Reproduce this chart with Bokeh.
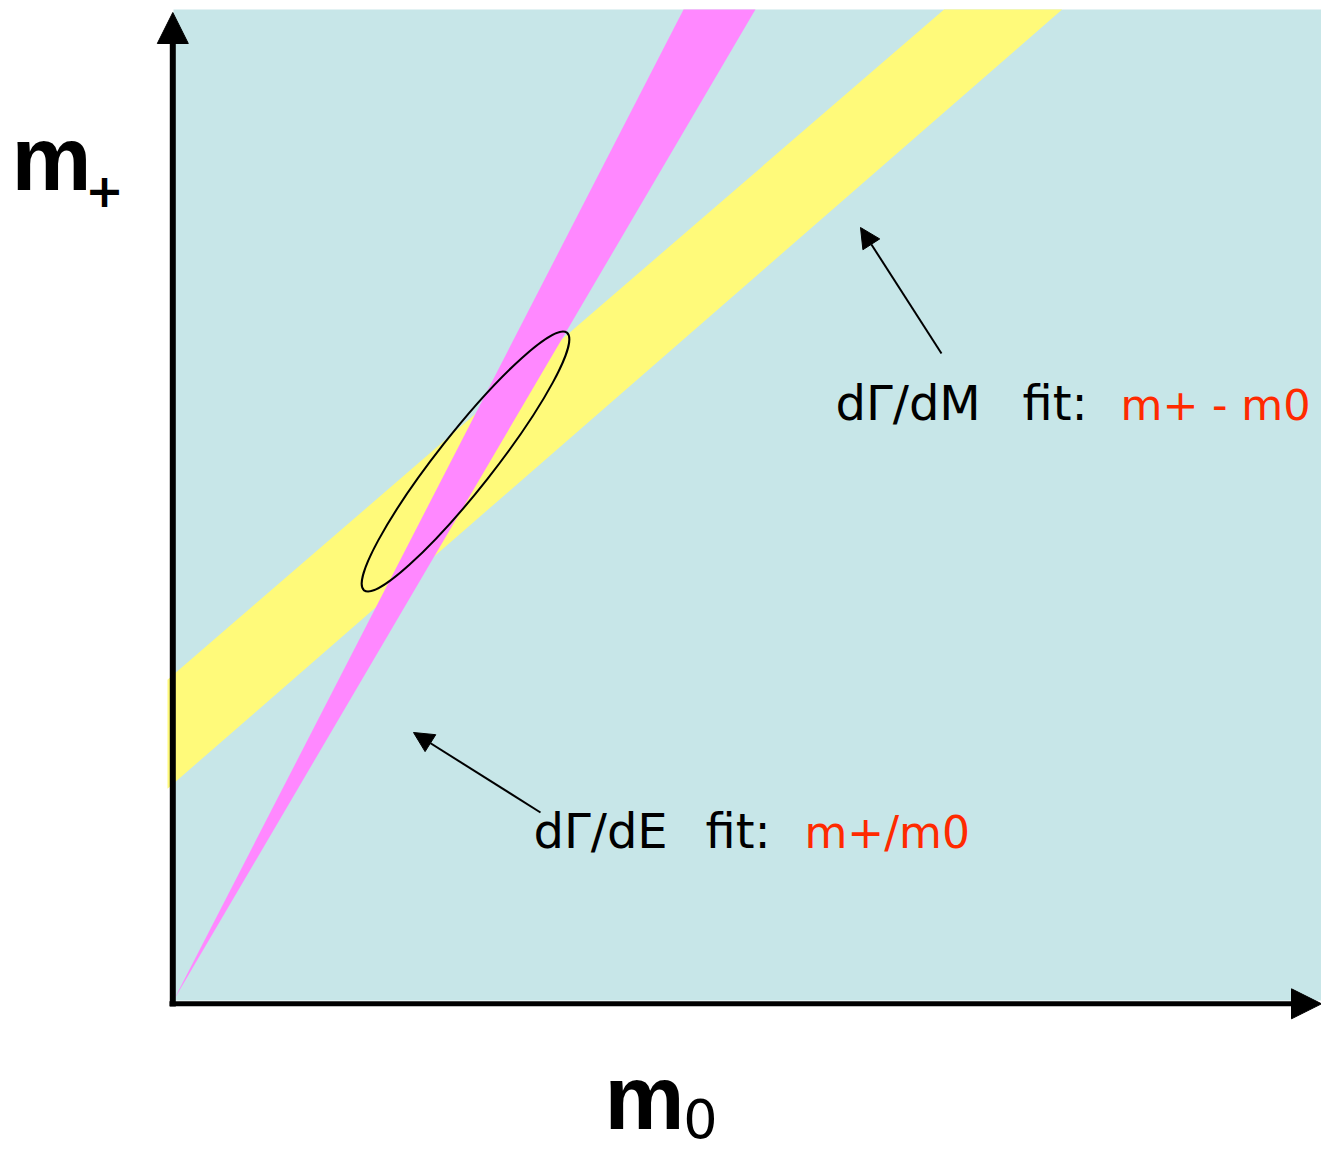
import math
from bokeh.plotting import figure
from bokeh.models import Range1d, Arrow, NormalHead
from bokeh.core.properties import value
from bokeh.embed import file_html
from bokeh.resources import INLINE

# ---- data (m0 / m+ plane, arbitrary units) ----
region_m0 = [0, 1148]          # allowed region extent on m0
region_mp = [0, 991]           # allowed region extent on m+
ratio_lo, ratio_hi = 1.703, 1.943        # dGamma/dE fit: m+/m0 band
diff_lo, diff_hi = 217.0, 326.0          # dGamma/dM fit: m+ - m0 band (intercepts)
diff_slope_lo, diff_slope_hi = 0.871, 0.863
band_m0_start = -6
ellipse_center = (292, 539)
ellipse_axes = (328, 56)
ellipse_angle_deg = 51.8

BLUE = "#C7E6E8"
YELLOW = "#FFFA7A"
MAGENTA = "#FF88FF"
RED = "#FF2A00"

p = figure(width=1321, height=1155, x_range=Range1d(-173, 1148), y_range=Range1d(-155, 1000),
           x_axis_type=None, y_axis_type=None, min_border=0, toolbar_location=None,
           output_backend="svg")
p.grid.visible = False
p.outline_line_color = None
p.background_fill_color = "white"

# allowed region
p.quad(left=[region_m0[0]], right=[region_m0[1]], bottom=[region_mp[0]], top=[region_mp[1]],
       fill_color=BLUE, line_color=None)

# yellow band: m+ - m0 constraint
top = region_mp[1]
yx = [band_m0_start, (top - diff_hi) / diff_slope_hi, (top - diff_lo) / diff_slope_lo, band_m0_start]
yy = [diff_hi + diff_slope_hi * band_m0_start, top, top, diff_lo + diff_slope_lo * band_m0_start]
p.patch(yx, yy, fill_color=YELLOW, line_color=None)

# magenta band: m+/m0 constraint
mx = [0, top / ratio_hi, top / ratio_lo]
my = [0, top, top]
p.patch(mx, my, fill_color=MAGENTA, line_color=None)

# combined ellipse
p.ellipse(x=[ellipse_center[0]], y=[ellipse_center[1]], width=[ellipse_axes[0]], height=[ellipse_axes[1]],
          angle=[math.radians(ellipse_angle_deg)], fill_color=None, line_color="black", line_width=2)

# axes arrows
p.add_layout(Arrow(x_start=-0.7, y_start=-6, x_end=-0.7, y_end=988, line_width=6, line_color="black",
                   end=NormalHead(size=31, fill_color="black", line_color="black")))
p.add_layout(Arrow(x_start=-4, y_start=-3.3, x_end=1148, y_end=-3.3, line_width=5, line_color="black",
                   end=NormalHead(size=30, fill_color="black", line_color="black")))

# annotation arrows
p.add_layout(Arrow(x_start=768, y_start=647, x_end=687, y_end=773, line_width=2, line_color="black",
                   end=NormalHead(size=20, fill_color="black", line_color="black")))
p.add_layout(Arrow(x_start=367, y_start=188, x_end=240, y_end=268, line_width=2, line_color="black",
                   end=NormalHead(size=20, fill_color="black", line_color="black")))

K = 0.37  # baseline compensation (fraction of font size)

def txt(px, py, s, color="black", size=44, style="normal", align="left", font="DejaVu Sans"):
    # px, py: screen position of the text baseline start
    p.text(x=[px - 173], y=[1000 - py + K * size], text=[s], text_color=color, text_font=value(font),
           text_font_size=f"{size}px", text_font_style=style, text_align=align,
           text_baseline="alphabetic")

# labels
txt(835, 420, "d\u0393/dM", size=48)
txt(1022, 420, "fit:", size=48)
txt(1120, 420, "m+ - m0", RED, size=43)

txt(533, 848, "d\u0393/dE", size=48)
txt(705, 848, "fit:", size=48)
txt(804, 848, "m+/m0", RED, size=44)

# axis titles
txt(11, 192, "m", size=90, style="bold", font="Liberation Sans")
txt(104, 207, "+", size=46, style="bold", align="center")
txt(604, 1131, "m", size=90, style="bold", font="Liberation Sans")
txt(700, 1138, "0", size=54, align="center")

open("out.html", "w").write(file_html(p, INLINE))
